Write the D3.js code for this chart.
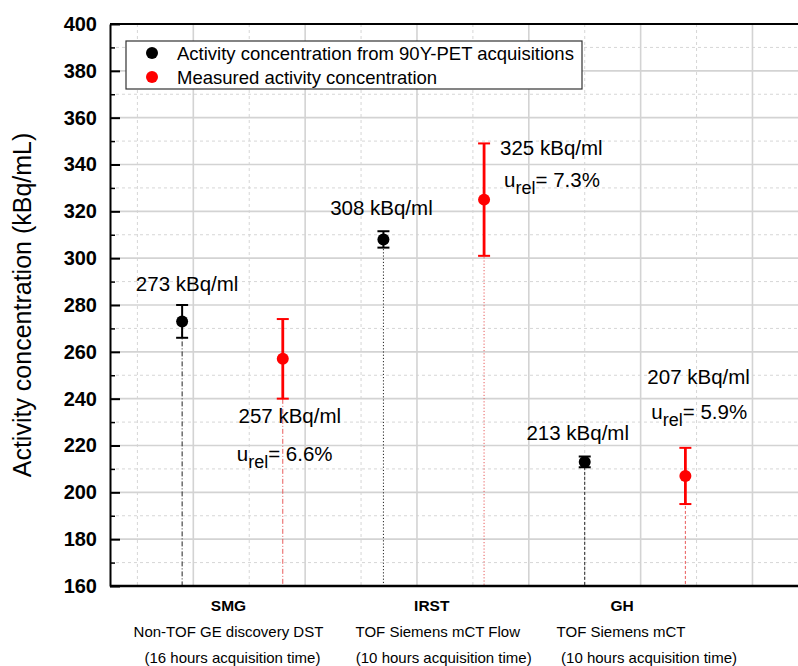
<!DOCTYPE html>
<html>
<head>
<meta charset="utf-8">
<script src="https://cdn.jsdelivr.net/npm/d3@7"></script>
<style>
  html, body { margin: 0; padding: 0; background: #fff; }
  svg { display: block; font-family: "Liberation Sans", Arial, sans-serif; }
</style>
</head>
<body>
<svg id="chart" width="798" height="666"></svg>
<script>
// ---------------- data ----------------
const groups    = ["SMG", "IRST", "GH"];
const scanners  = ["Non-TOF GE discovery DST", "TOF Siemens mCT Flow", "TOF Siemens mCT"];
const acqTimes  = ["(16 hours acquisition time)", "(10 hours acquisition time)", "(10 hours acquisition time)"];
const petX      = [1.8, 5.4, 9.0];     // x positions (axis units) of PET points
const measX     = [3.6, 7.2, 10.8];    // x positions of measured points
const petValues = [273, 308, 213];
const petErr    = [7, 3.5, 2.3];
const measValues= [257, 325, 207];
const measErr   = [17, 24, 12];
const uRel      = ["6.6%", "7.3%", "5.9%"];
const yTicks    = [160, 180, 200, 220, 240, 260, 280, 300, 320, 340, 360, 380, 400];
const legendLabels = ["Activity concentration from 90Y-PET acquisitions", "Measured activity concentration"];
const yTitle = "Activity concentration (kBq/mL)";

// ---------------- layout ----------------
const L = 110, T = 24, B = 586, R = 800;
const svg = d3.select("#chart");
const x = d3.scaleLinear().domain([0.51, 12.85]).range([L, R]);
const y = d3.scaleLinear().domain([160, 400]).range([B, T]);

const g = svg.append("g");

// grid
const xMajor = d3.range(2, 13, 2), xMinor = d3.range(1, 14, 2);
const yMajor = yTicks.filter(v => v > 160 && v < 400);
const yMinor = d3.range(170, 400, 20);
g.selectAll(".vmin").data(xMinor).join("line")
  .attr("x1", d => x(d)).attr("x2", d => x(d)).attr("y1", T).attr("y2", B)
  .attr("stroke", "#d6d6d6").attr("stroke-width", 1).attr("stroke-dasharray", "3,3");
g.selectAll(".hmin").data(yMinor).join("line")
  .attr("x1", L).attr("x2", R).attr("y1", d => y(d)).attr("y2", d => y(d))
  .attr("stroke", "#d6d6d6").attr("stroke-width", 1).attr("stroke-dasharray", "3,3");
g.selectAll(".vmaj").data(xMajor).join("line")
  .attr("x1", d => x(d)).attr("x2", d => x(d)).attr("y1", T).attr("y2", B)
  .attr("stroke", "#d3d3d3").attr("stroke-width", 1.6);
g.selectAll(".hmaj").data(yMajor).join("line")
  .attr("x1", L).attr("x2", R).attr("y1", d => y(d)).attr("y2", d => y(d))
  .attr("stroke", "#d3d3d3").attr("stroke-width", 1.6);

// drop lines
const dashes = ["5,2,1,2", "1.2,2", "3,2"];
groups.forEach((grp, i) => {
  g.append("line").attr("x1", x(petX[i])).attr("x2", x(petX[i]))
    .attr("y1", y(petValues[i])).attr("y2", B)
    .attr("stroke", "#222").attr("stroke-width", 1).attr("stroke-dasharray", dashes[i]);
  g.append("line").attr("x1", x(measX[i])).attr("x2", x(measX[i]))
    .attr("y1", y(measValues[i])).attr("y2", B)
    .attr("stroke", "#e85a5a").attr("stroke-width", 1).attr("stroke-dasharray", dashes[i]);
});

// error bars + points
function errbar(cx, v, e, color, w) {
  const cap = 6;
  g.append("line").attr("x1", x(cx)).attr("x2", x(cx)).attr("y1", y(v + e)).attr("y2", y(v - e))
    .attr("stroke", color).attr("stroke-width", w);
  [v + e, v - e].forEach(c => g.append("line")
    .attr("x1", x(cx) - cap).attr("x2", x(cx) + cap).attr("y1", y(c)).attr("y2", y(c))
    .attr("stroke", color).attr("stroke-width", 2));
  g.append("circle").attr("cx", x(cx)).attr("cy", y(v)).attr("r", 6).attr("fill", color);
}
groups.forEach((grp, i) => {
  errbar(petX[i], petValues[i], petErr[i], "#000", 2);
  errbar(measX[i], measValues[i], measErr[i], "#ff0000", 2.8);
});

// axes frame
g.append("line").attr("x1", L).attr("x2", 798).attr("y1", T).attr("y2", T).attr("stroke", "#000").attr("stroke-width", 2);
g.append("line").attr("x1", L).attr("x2", 798).attr("y1", B).attr("y2", B).attr("stroke", "#000").attr("stroke-width", 2.5);

const yAxis = d3.axisLeft(y).tickValues(yTicks).tickSizeInner(-10).tickSizeOuter(0).tickPadding(13);
const ya = g.append("g").attr("transform", `translate(${L},0)`).call(yAxis);
ya.select(".domain").attr("stroke-width", 2);
ya.selectAll(".tick line").attr("stroke-width", 2);
ya.selectAll(".tick text").attr("font-size", 20).attr("font-weight", "bold")
  .attr("font-family", "Liberation Sans, Arial, sans-serif").attr("fill", "#000");
const yAxisMinor = d3.axisLeft(y).tickValues(yMinor).tickSizeInner(-5).tickSizeOuter(0).tickFormat("");
const ym = g.append("g").attr("transform", `translate(${L},0)`).call(yAxisMinor);
ym.select(".domain").remove();
ym.selectAll(".tick line").attr("stroke-width", 1.5);

// y title
svg.append("text").attr("transform", `translate(31,${(T + B) / 2}) rotate(-90)`)
  .attr("text-anchor", "middle").attr("font-size", 25).text(yTitle);

// category labels (per-line horizontal nudges)
const rowNudge = [[-4, -4, 0], [-2, 4, 10], [-13, -14, 14]];
groups.forEach((grp, i) => {
  const cx = x((petX[i] + measX[i]) / 2);
  svg.append("text").attr("x", cx + rowNudge[i][0]).attr("y", 611).attr("text-anchor", "middle")
    .attr("font-size", 15.5).attr("font-weight", "bold").text(grp);
  svg.append("text").attr("x", cx + rowNudge[i][1]).attr("y", 637).attr("text-anchor", "middle")
    .attr("font-size", 15).text(scanners[i]);
  svg.append("text").attr("x", cx + rowNudge[i][2]).attr("y", 663).attr("text-anchor", "middle")
    .attr("font-size", 15).text(acqTimes[i]);
});

// annotations
const fs = 20.5;
const petLabelOffsets = [[5, -30], [-2, -24], [-7, -22]];
groups.forEach((grp, i) => {
  svg.append("text").attr("x", x(petX[i]) + petLabelOffsets[i][0]).attr("y", y(petValues[i]) + petLabelOffsets[i][1])
    .attr("text-anchor", "middle").attr("font-size", fs).text(petValues[i] + " kBq/ml");
});
const measLabel = [
  { dx: 7,  dy: 64,  ux: -46, uy: 102, anchor: "middle" },
  { dx: 16, dy: -45, ux: 20,  uy: -13, anchor: "start" },
  { dx: -38, dy: -92, ux: -34, uy: -57, anchor: "start" }
];
groups.forEach((grp, i) => {
  const px = x(measX[i]), py = y(measValues[i]), m = measLabel[i];
  svg.append("text").attr("x", px + m.dx).attr("y", py + m.dy)
    .attr("text-anchor", m.anchor).attr("font-size", fs).text(measValues[i] + " kBq/ml");
  const t = svg.append("text").attr("x", px + m.ux).attr("y", py + m.uy).attr("font-size", fs);
  t.append("tspan").text("u");
  t.append("tspan").attr("font-size", 18).attr("dy", 7).text("rel");
  t.append("tspan").attr("dy", -7).text("= " + uRel[i]);
});

// legend
const lg = svg.append("g");
lg.append("rect").attr("x", 126).attr("y", 41).attr("width", 456).attr("height", 48)
  .attr("fill", "#fff").attr("stroke", "#333").attr("stroke-width", 1.2);
["#000", "#ff0000"].forEach((c, i) => {
  lg.append("circle").attr("cx", 152).attr("cy", 53 + i * 24).attr("r", 6).attr("fill", c);
  lg.append("text").attr("x", 177).attr("y", 59.5 + i * 24).attr("font-size", 18.5).text(legendLabels[i]);
});
</script>
</body>
</html>
